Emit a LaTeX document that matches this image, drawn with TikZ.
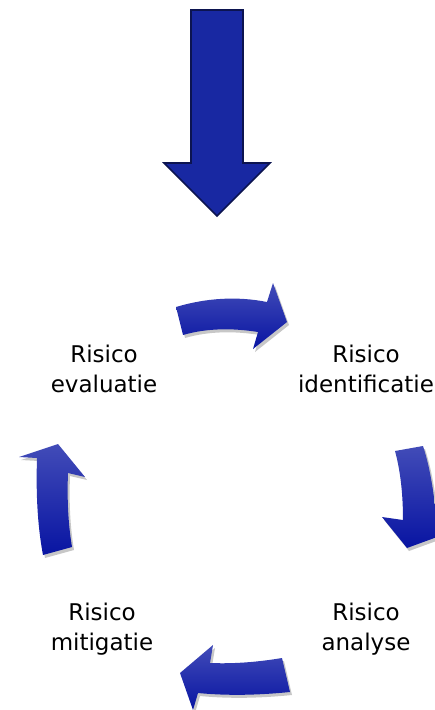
\documentclass[tikz,border=0pt]{standalone}
\usepackage{fontspec}
\setmainfont{DejaVu Sans}
\usetikzlibrary{shadows}
\definecolor{arrtop}{RGB}{66,76,184}
\definecolor{arrbot}{RGB}{8,20,162}
\definecolor{bigfill}{RGB}{24,40,162}
\definecolor{bigline}{RGB}{12,20,80}
\tikzset{
  cyclearrow/.style={top color=arrtop, bottom color=arrbot, draw=none,
    drop shadow={shadow xshift=2pt, shadow yshift=-3pt, opacity=.22, fill=black}},
  bigarrow/.style={fill=bigfill, draw=bigline, line width=1.6pt, line join=miter},
  lbl/.style={align=center, inner sep=0pt, anchor=base,
    font=\fontsize{23}{30}\selectfont, text=black}
}
\begin{document}
\begin{tikzpicture}[x=1pt,y=-1pt]
\useasboundingbox (0,0) rectangle (435,710);
% big incoming arrow
\path[bigarrow] (191,10) -- (243,10) -- (243,163) -- (270,163) -- (217,216) -- (164,163) -- (191,163) -- cycle;
% top arrow (evaluatie -> identificatie)
\path[cyclearrow] (176,307) .. controls (206,298) and (237,296) .. (267,302)
  -- (273,283) -- (287,322) -- (253,349) -- (258,332)
  .. controls (233,328) and (207,328) .. (183,335) -- cycle;
% right arrow (identificatie -> analyse)
\path[cyclearrow] (423,446) .. controls (431,470) and (435,500) .. (437,528)
  -- (448,533) -- (407,548) -- (382,517) -- (403,520)
  .. controls (403,497) and (401,473) .. (395,451) -- cycle;
% bottom arrow (analyse -> mitigatie)
\path[cyclearrow] (282,658) .. controls (258,662) and (234,664) .. (210,663)
  -- (213,645) -- (180,673) -- (193,710) -- (198,693)
  .. controls (229,696) and (260,695) .. (290,692) -- cycle;
% left arrow (mitigatie -> evaluatie)
\path[cyclearrow] (43,555) .. controls (37,523) and (36,490) .. (37,458)
  -- (19,457) -- (58,444) -- (85,477) -- (68,473)
  .. controls (67,498) and (68,523) .. (72,547) -- cycle;
% labels
\node[lbl] (evaluatie) at (104,392) {Risico\\evaluatie};
\node[lbl] (identificatie) at (366,392) {Risico\\identificatie};
\node[lbl] (mitigatie) at (102,650) {Risico\\mitigatie};
\node[lbl] (analyse) at (366,650) {Risico\\analyse};
\end{tikzpicture}
\end{document}
